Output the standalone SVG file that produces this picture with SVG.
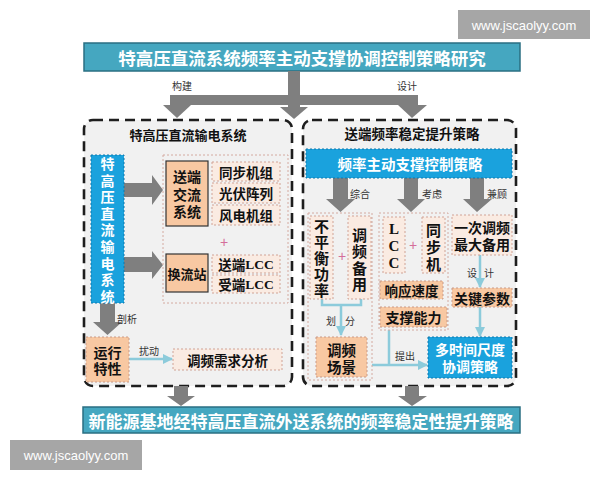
<svg xmlns="http://www.w3.org/2000/svg" width="600" height="480" viewBox="0 0 600 480">
<defs>
<style>
.t{font-family:"Noto Sans CJK SC","Noto Sans",sans-serif;font-weight:bold;fill:#111;text-anchor:middle;dominant-baseline:central}
.w{fill:#fff}
.lb{font-family:"Noto Sans CJK SC","Noto Sans",sans-serif;font-size:10px;fill:#333;text-anchor:middle;dominant-baseline:central}
.serif{font-family:"Liberation Serif","Noto Sans CJK SC",serif}
.panel{fill:#f1f1f1;stroke:#1e1e1e;stroke-width:2.6;stroke-dasharray:10 6}
.grp{fill:none;stroke:#d4aaa0;stroke-width:1;stroke-dasharray:2 2}
.or{fill:#f8c8a2;stroke:#c89a88;stroke-width:1;stroke-dasharray:2 2}
.ors{fill:#f8c8a2;stroke:#333;stroke-width:1.2}
.pk{fill:#faebe2;stroke:#d0a396;stroke-width:1;stroke-dasharray:2 2}
.bl{fill:#1aa2dd;stroke:#0d78ad;stroke-width:1;stroke-dasharray:2 2}
.bar{fill:#45a7c0;stroke:#2a6f82;stroke-width:1.5}
.ga{fill:#7f7f7f}
.la{fill:none;stroke:#8ccbdb;stroke-width:2.5}
.plus{font-family:"Liberation Sans",sans-serif;font-size:14px;fill:#d56e9a;text-anchor:middle;dominant-baseline:central}
.wm{fill:#a6a6a6}
.wmt{font-family:"Liberation Sans",Arial,sans-serif;font-size:13px;fill:#fff;text-anchor:middle;dominant-baseline:central}
</style>
<marker id="lah" viewBox="0 0 10 10" refX="9" refY="5" markerWidth="4" markerHeight="4" orient="auto" markerUnits="strokeWidth">
<path d="M0,0 L10,5 L0,10 z" fill="#8ccbdb"/>
</marker>
</defs>
<rect width="600" height="480" fill="#fff"/>

<g id="watermark-top"><rect class="wm" x="458" y="10" width="132" height="29"/><text class="wmt" x="524" y="25">www.jscaolyy.com</text></g>
<g id="watermark-bottom"><rect class="wm" x="10" y="440" width="132" height="30"/><text class="wmt" x="76" y="455">www.jscaolyy.com</text></g>

<g id="title"><rect class="bar" x="84" y="43" width="436" height="28"/><text class="t w" x="302" y="57" font-size="17.5">特高压直流系统频率主动支撑协调控制策略研究</text></g>

<g id="panel-left"><rect class="panel" x="84" y="120" width="208" height="266" rx="9"/><text class="t" x="188" y="134" font-size="13">特高压直流输电系统</text></g>
<g id="panel-right"><rect class="panel" x="303" y="120" width="213" height="266" rx="9"/><text class="t" x="412" y="133" font-size="13.5">送端频率稳定提升策略</text></g>

<g id="bottom"><rect class="bar" x="83" y="407" width="437" height="26"/><text class="t w" x="301" y="420" font-size="17">新能源基地经特高压直流外送系统的频率稳定性提升策略</text></g>

<g id="connectors">
<rect class="ga" x="170" y="95" width="248" height="10"/>
<rect class="ga" x="288" y="71" width="12" height="37"/>
<polygon class="ga" points="163,105 191,105 177,118"/>
<polygon class="ga" points="280,107 308,107 294,119"/>
<polygon class="ga" points="398,105 427,105 412,118"/>
<text class="lb" x="182" y="85" font-size="12">构建</text>
<text class="lb" x="407" y="85" font-size="12">设计</text>
<polygon class="ga" points="124,183 152,183 152,175 163,190 152,205 152,197 124,197"/>
<polygon class="ga" points="124,257 152,257 152,251 163,265 152,279 152,272 124,272"/>
<polygon class="ga" points="100,303 115,303 115,322 122,322 107.5,335 93,322 100,322"/>
<text class="lb" x="127" y="318">剖析</text>
<line class="la" x1="129" y1="359" x2="172" y2="359" marker-end="url(#lah)"/>
<text class="lb" x="149" y="350">扰动</text>
<polygon class="ga" points="333,178 348,178 348,199 355,199 340.5,212 326,199 333,199"/>
<polygon class="ga" points="404,178 418,178 418,199 425,199 411,212 397,199 404,199"/>
<polygon class="ga" points="470,178 484,178 484,199 492,199 477,212 463,199 470,199"/>
<text class="lb" x="360" y="193">综合</text>
<text class="lb" x="432" y="193">考虑</text>
<text class="lb" x="497" y="193">兼顾</text>
<polyline class="la" points="322,299 322,305 361,305 361,299"/>
<line class="la" x1="341" y1="305" x2="341" y2="335" marker-end="url(#lah)"/>
<text class="lb" x="331" y="320">划</text><text class="lb" x="350" y="320">分</text>
<line class="la" x1="389" y1="330" x2="389" y2="365"/>
<line class="la" x1="372" y1="365" x2="427" y2="365" marker-end="url(#lah)"/>
<text class="lb" x="405" y="355">提出</text>
<line class="la" x1="480" y1="255" x2="480" y2="287" marker-end="url(#lah)"/>
<text class="lb" x="472" y="272">设</text><text class="lb" x="489" y="272">计</text>
<line class="la" x1="480" y1="307" x2="480" y2="336" marker-end="url(#lah)"/>
<polygon class="ga" points="174,386 188,386 188,396 195,396 181,406 167,396 174,396"/>
<polygon class="ga" points="405,386 419,386 419,396 427,396 412,406 398,396 405,396"/>
</g>

<g id="hvdc-system"><rect class="bl" x="91" y="155" width="33" height="148"/>
<text class="t w" font-size="14"><tspan x="107.5" y="163">特</tspan><tspan x="107.5" y="179.6">高</tspan><tspan x="107.5" y="196.2">压</tspan><tspan x="107.5" y="212.8">直</tspan><tspan x="107.5" y="229.4">流</tspan><tspan x="107.5" y="246">输</tspan><tspan x="107.5" y="262.6">电</tspan><tspan x="107.5" y="279.2">系</tspan><tspan x="107.5" y="295.8">统</tspan></text></g>

<g id="sub-group"><rect class="grp" x="163" y="155" width="125" height="148"/><text class="plus" x="224" y="242">+</text></g>
<g id="ac-system"><rect class="ors" x="166" y="161" width="42" height="65"/><text class="t" font-size="14"><tspan x="187" y="176">送端</tspan><tspan x="187" y="194">交流</tspan><tspan x="187" y="211">系统</tspan></text></g>
<g id="sync"><rect class="pk" x="212" y="162" width="68" height="19"/><text class="t" x="246" y="171.5" font-size="13.5">同步机组</text></g>
<g id="pv"><rect class="pk" x="212" y="183" width="68" height="20"/><text class="t" x="246" y="193" font-size="13.5">光伏阵列</text></g>
<g id="wind"><rect class="pk" x="212" y="205" width="68" height="20"/><text class="t" x="246" y="215" font-size="13.5">风电机组</text></g>
<g id="converter"><rect class="ors" x="166" y="254" width="42" height="38"/><text class="t" x="187" y="273" font-size="13">换流站</text></g>
<g id="send-lcc"><rect class="pk" x="212" y="255" width="68" height="18"/><text class="t" x="246" y="264" font-size="13.5">送端<tspan class="serif">LCC</tspan></text></g>
<g id="recv-lcc"><rect class="pk" x="212" y="275" width="68" height="18"/><text class="t" x="246" y="284" font-size="13.5">受端<tspan class="serif">LCC</tspan></text></g>

<g id="operation"><rect class="or" x="86" y="337" width="43" height="45"/><text class="t" font-size="14"><tspan x="107.5" y="352">运行</tspan><tspan x="107.5" y="368">特性</tspan></text></g>
<g id="demand"><rect class="pk" x="173" y="349" width="109" height="21"/><text class="t" x="227.5" y="359.5" font-size="13.5">调频需求分析</text></g>

<g id="control-strategy"><rect class="bl" x="306" y="149" width="206" height="29"/><text class="t w" x="410" y="163.5" font-size="14.5">频率主动支撑控制策略</text></g>

<g id="group-a"><rect class="grp" x="308" y="213" width="64" height="167"/><text class="plus" x="342" y="256">+</text></g>
<g id="unbalance"><rect class="pk" x="310" y="216" width="23" height="83"/><text class="t" font-size="15"><tspan x="321.5" y="225">不</tspan><tspan x="321.5" y="241">平</tspan><tspan x="321.5" y="257">衡</tspan><tspan x="321.5" y="273">功</tspan><tspan x="321.5" y="289">率</tspan></text></g>
<g id="reserve"><rect class="pk" x="348" y="216" width="23" height="83"/><text class="t" font-size="15"><tspan x="359.5" y="234">调</tspan><tspan x="359.5" y="250">频</tspan><tspan x="359.5" y="267">备</tspan><tspan x="359.5" y="283">用</tspan></text></g>
<g id="scene"><rect class="or" x="316" y="337" width="51" height="40"/><text class="t" font-size="14.5"><tspan x="341.5" y="349">调频</tspan><tspan x="341.5" y="366">场景</tspan></text></g>

<g id="group-b"><rect class="grp" x="379" y="213" width="69" height="117"/><text class="plus" x="413" y="245">+</text></g>
<g id="lcc"><rect class="pk" x="383" y="217" width="22" height="56"/><text class="t serif" font-size="15"><tspan x="394" y="229">L</tspan><tspan x="394" y="246">C</tspan><tspan x="394" y="263">C</tspan></text></g>
<g id="sync-machine"><rect class="pk" x="422" y="217" width="23" height="56"/><text class="t" font-size="15"><tspan x="433.5" y="229">同</tspan><tspan x="433.5" y="246">步</tspan><tspan x="433.5" y="263">机</tspan></text></g>
<g id="speed"><rect class="or" x="380" y="281" width="63" height="18"/><text class="t" x="411.5" y="290" font-size="13.5">响应速度</text></g>
<g id="capacity"><rect class="or" x="380" y="307" width="67" height="20"/><text class="t" x="413.5" y="317" font-size="14">支撑能力</text></g>

<g id="primary-reserve"><rect class="pk" x="452" y="215" width="60" height="40"/><text class="t" font-size="14"><tspan x="482" y="227">一次调频</tspan><tspan x="482" y="243.5">最大备用</tspan></text></g>
<g id="key-params"><rect class="or" x="452" y="288" width="60" height="19"/><text class="t" x="482" y="297.5" font-size="14">关键参数</text></g>
<g id="multi-scale"><rect class="bl" x="428" y="337" width="84" height="41"/><text class="t w" font-size="14"><tspan x="470" y="349">多时间尺度</tspan><tspan x="470" y="366">协调策略</tspan></text></g>
</svg>
